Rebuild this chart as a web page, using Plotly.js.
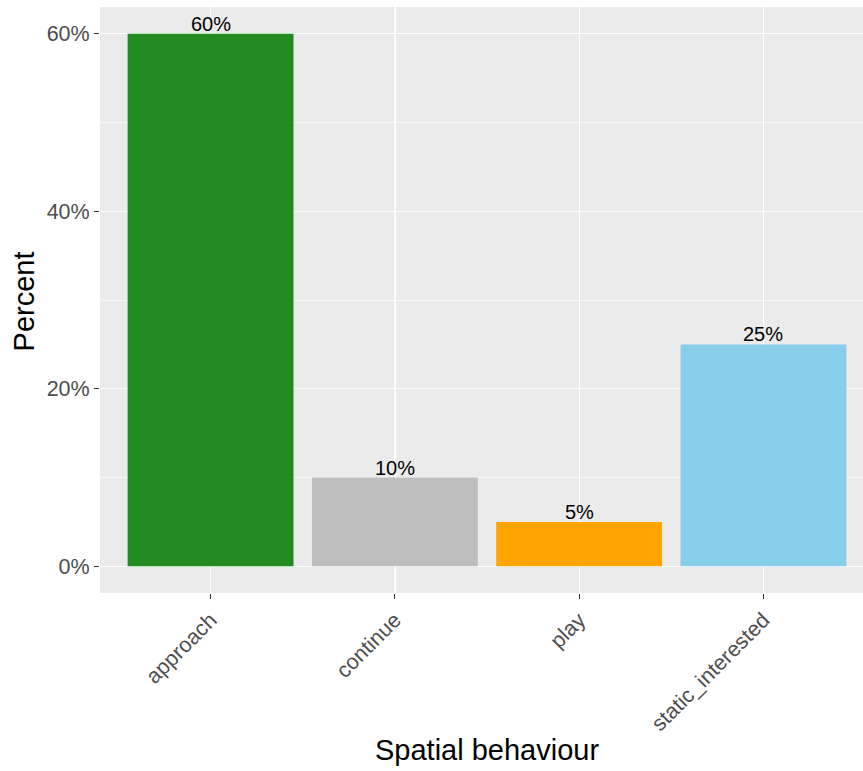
<!DOCTYPE html>
<html>
<head>
<meta charset="utf-8">
<script src="https://cdn.plot.ly/plotly-3.0.1.min.js"></script>
<style>html,body{margin:0;padding:0;background:#fff;}#chart{width:863px;height:771px;}</style>
</head>
<body>
<div id="chart"></div>
<script>
const categories = ["approach", "continue", "play", "static_interested"];
const percents = [0.60, 0.10, 0.05, 0.25];
const barColors = ["#228B22", "#BEBEBE", "#FFA500", "#87CEEB"];
const labels = ["60%", "10%", "5%", "25%"];
const yTickVals = [0, 0.2, 0.4, 0.6];
const yTickText = ["0%", "20%", "40%", "60%"];

const font = "Liberation Sans, Arial, Helvetica, sans-serif";

const trace = {
  type: "bar",
  x: categories,
  y: percents,
  marker: {color: barColors, line: {width: 0}},
  width: 0.9,
  hoverinfo: "none"
};

const barLabels = categories.map((c, i) => ({
  x: c, y: percents[i], xref: "x", yref: "y",
  text: labels[i], showarrow: false, yanchor: "bottom",
  yshift: -3,
  font: {family: font, size: 20, color: "#000000"}
}));

const layout = {
  width: 863, height: 771,
  margin: {l: 100, r: 0, t: 7, b: 177.7, pad: 0},
  paper_bgcolor: "#FFFFFF",
  plot_bgcolor: "#EBEBEB",
  showlegend: false,
  bargap: 0.1,
  xaxis: {
    type: "category",
    range: [-0.6, 3.54],
    showgrid: true, gridcolor: "#FFFFFF", gridwidth: 1.3,
    zeroline: false, showline: false,
    ticks: "outside", ticklen: 5, tickwidth: 1.2, tickcolor: "#333333",
    tickangle: -45,
    tickfont: {family: font, size: 21.5, color: "#4D4D4D"},
    fixedrange: true
  },
  yaxis: {
    range: [-0.03, 0.63],
    tickvals: yTickVals, ticktext: yTickText,
    showgrid: true, gridcolor: "#FFFFFF", gridwidth: 1.3,
    minor: {tickvals: [0.1, 0.3, 0.5], showgrid: true, gridcolor: "#FFFFFF", gridwidth: 0.65, ticks: ""},
    zeroline: false, showline: false,
    ticks: "outside", ticklen: 5, tickwidth: 1.2, tickcolor: "#333333",
    tickfont: {family: font, size: 21.5, color: "#4D4D4D"},
    fixedrange: true
  },
  annotations: barLabels.concat([
    {xref: "paper", yref: "paper", x: 0.507, y: -0.268, xanchor: "center", yanchor: "middle",
     text: "Spatial behaviour", showarrow: false, font: {family: font, size: 29, color: "#000000"}},
    {xref: "paper", yref: "paper", x: -0.1, y: 0.497, xanchor: "center", yanchor: "middle",
     text: "Percent", textangle: -90, showarrow: false, font: {family: font, size: 29, color: "#000000"}}
  ])
};

Plotly.newPlot("chart", [trace], layout, {displayModeBar: false, staticPlot: true});
</script>
</body>
</html>
